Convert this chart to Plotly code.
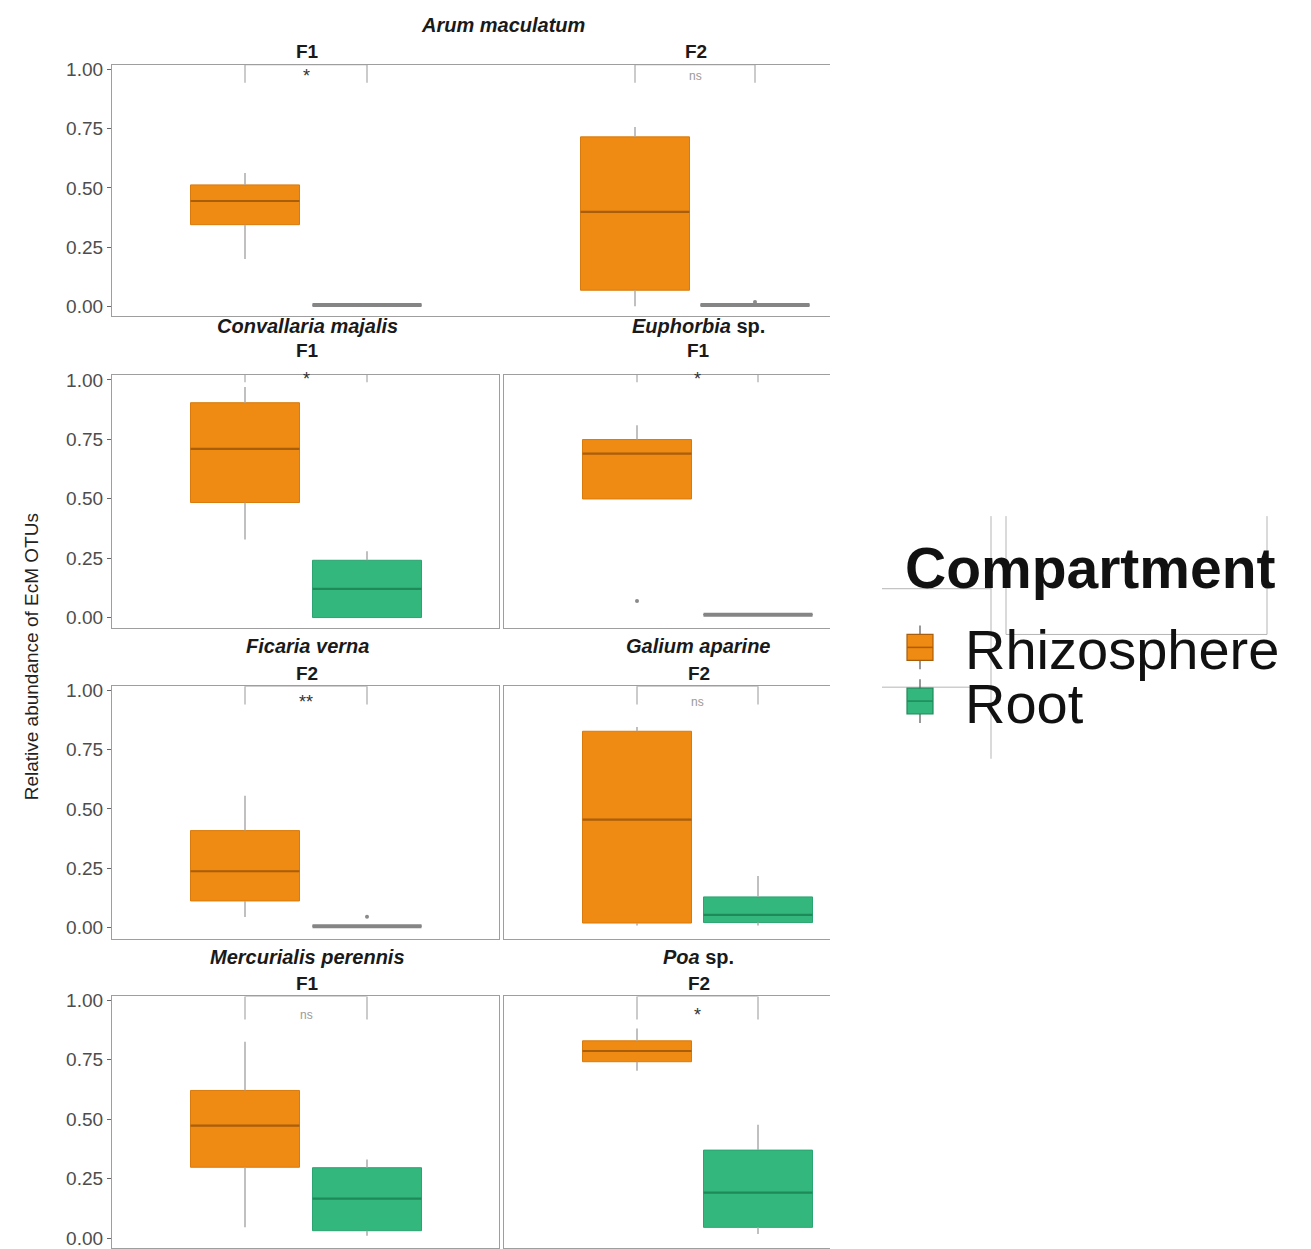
import plotly.graph_objects as go

# ---------------- data ----------------
species = ["Arum maculatum", "Arum maculatum", "Convallaria majalis", "Euphorbia sp.",
           "Ficaria verna", "Galium aparine", "Mercurialis perennis", "Poa sp."]
site = ["F1", "F2", "F1", "F1", "F2", "F2", "F1", "F2"]
signif = ["*", "ns", "*", "*", "**", "ns", "ns", "*"]
compartments = ["Rhizosphere", "Root"]

rhizo_low = [0.200, 0.000, 0.328, 0.499, 0.046, 0.010, 0.045, 0.704]
rhizo_q1 = [0.345, 0.068, 0.484, 0.499, 0.113, 0.020, 0.298, 0.742]
rhizo_med = [0.445, 0.399, 0.710, 0.690, 0.238, 0.455, 0.473, 0.787]
rhizo_q3 = [0.513, 0.716, 0.904, 0.749, 0.409, 0.827, 0.621, 0.830]
rhizo_high = [0.563, 0.758, 0.970, 0.809, 0.556, 0.845, 0.826, 0.882]
rhizo_out = [[], [], [], [0.070], [], [], [], []]

root_low = [0.005, 0.005, 0.000, 0.012, 0.007, 0.010, 0.010, 0.017]
root_q1 = [0.005, 0.005, 0.000, 0.012, 0.007, 0.022, 0.031, 0.045]
root_med = [0.005, 0.005, 0.121, 0.012, 0.007, 0.054, 0.166, 0.191]
root_q3 = [0.005, 0.005, 0.241, 0.012, 0.007, 0.130, 0.296, 0.370]
root_high = [0.005, 0.005, 0.279, 0.012, 0.007, 0.218, 0.331, 0.477]
root_out = [[], [0.018], [], [], [0.047], [], [], []]

y_tickvals = [0, 0.25, 0.5, 0.75, 1.0]
y_ticktext = ["0.00", "0.25", "0.50", "0.75", "1.00"]

# ---------------- style ----------------
W, H = 1311, 1249
FILL = {"Rhizosphere": "#EF8A12", "Root": "#34B77D"}
EDGE = {"Rhizosphere": "#D97B0C", "Root": "#2AA470"}
MED = {"Rhizosphere": "#A85E0A", "Root": "#1E8A5A"}
FLAT = "#858585"
WHISK = "#ABABAB"
BORDER = "#9E9E9E"
FONT = "Liberation Sans, Arial, Helvetica, sans-serif"

def px2x(p):
    return p / W

def py2y(p):
    return 1 - p / H

row_top = [59, 371, 684, 996]
row_bot = [312, 626, 938, 1249]
y1px = [64, 376, 688, 1000]
y0px = [302, 615, 927, 1239]

def panel_geom(i):
    r, c = divmod(i, 2)
    if r == 0:
        dom = (112, 501) if c == 0 else (501, 830)
        cats = (245, 367) if c == 0 else (635, 755)
    else:
        dom = (112, 499) if c == 0 else (504, 830)
        cats = (245, 367) if c == 0 else (637, 758)
    return r, c, dom, cats

bracket_top = [1.021, 1.070, 1.017, 1.017]
bracket_leg = [0.945, 0.99, 0.94, 0.92]
label_y = [0.975, 1.005, 0.950, 0.940]

fig = go.Figure()
layout = dict(
    width=W, height=H, margin=dict(l=0, r=0, t=0, b=0),
    paper_bgcolor="white", plot_bgcolor="white", showlegend=False,
    font=dict(family=FONT, color="#222"),
)
annotations = []
shapes = []

for i in range(8):
    r, c, dom, cats = panel_geom(i)
    unit_x = cats[1] - cats[0]
    xr = [(dom[0] - cats[0]) / unit_x, (dom[1] - cats[0]) / unit_x]
    unit_y = y0px[r] - y1px[r]
    yr = [(y0px[r] - row_bot[r]) / unit_y, (y0px[r] - row_top[r]) / unit_y]
    bw = 109 / unit_x
    xa = "x" if i == 0 else f"x{i+1}"
    ya = "y" if i == 0 else f"y{i+1}"
    xkey = "xaxis" if i == 0 else f"xaxis{i+1}"
    ykey = "yaxis" if i == 0 else f"yaxis{i+1}"

    layout[xkey] = dict(
        domain=[px2x(dom[0]), px2x(dom[1])], range=xr, anchor=ya,
        showticklabels=False, ticks="", showgrid=False, zeroline=False,
        showline=True, mirror=True, linecolor=BORDER, linewidth=1.3, fixedrange=True,
    )
    left_line = (c == 0) or (r > 0)
    right_line = (c == 0 and r > 0)
    layout[ykey] = dict(
        domain=[py2y(row_bot[r]), py2y(row_top[r])], range=yr, anchor=xa,
        tickvals=y_tickvals if c == 0 else [],
        ticktext=y_ticktext if c == 0 else [],
        showticklabels=(c == 0), ticks="outside" if c == 0 else "", ticklen=4,
        tickcolor="#666", tickfont=dict(size=19, color="#4D4D4D", family=FONT),
        showgrid=False, zeroline=False,
        showline=left_line, mirror=right_line, linecolor=BORDER, linewidth=1.3,
        fixedrange=True,
    )

    stats = {
        "Rhizosphere": (rhizo_low[i], rhizo_q1[i], rhizo_med[i], rhizo_q3[i], rhizo_high[i], rhizo_out[i]),
        "Root": (root_low[i], root_q1[i], root_med[i], root_q3[i], root_high[i], root_out[i]),
    }
    for k, comp in enumerate(compartments):
        lo, q1, md, q3, hi, outs = stats[comp]
        flat = (q3 - q1) < 1e-9
        if hi > q3:
            fig.add_trace(go.Scatter(x=[k, k], y=[q3, hi], mode="lines", xaxis=xa, yaxis=ya,
                                     line=dict(color=WHISK, width=1.5), hoverinfo="skip"))
        if lo < q1:
            fig.add_trace(go.Scatter(x=[k, k], y=[lo, q1], mode="lines", xaxis=xa, yaxis=ya,
                                     line=dict(color=WHISK, width=1.5), hoverinfo="skip"))
        fig.add_trace(go.Box(
            x=[k], q1=[q1], median=[md], q3=[q3], lowerfence=[q1], upperfence=[q3],
            width=bw, whiskerwidth=0, boxpoints=False, name=comp,
            fillcolor=FILL[comp], line=dict(color=FLAT if flat else EDGE[comp], width=1),
            xaxis=xa, yaxis=ya, hoverinfo="skip",
        ))
        fig.add_trace(go.Scatter(
            x=[k - bw / 2, k + bw / 2], y=[md, md], mode="lines", xaxis=xa, yaxis=ya,
            line=dict(color=FLAT if flat else MED[comp], width=4 if flat else 2.2),
            hoverinfo="skip",
        ))
        if outs:
            fig.add_trace(go.Scatter(
                x=[k] * len(outs), y=outs, mode="markers", xaxis=xa, yaxis=ya,
                marker=dict(color="#8A8A8A", size=4), hoverinfo="skip",
            ))

    fig.add_trace(go.Scatter(
        x=[0, 0, 1, 1], y=[bracket_leg[r], bracket_top[r], bracket_top[r], bracket_leg[r]],
        mode="lines", xaxis=xa, yaxis=ya, cliponaxis=False,
        line=dict(color="#A8A8A8", width=1.2), hoverinfo="skip",
    ))
    lab = signif[i]
    annotations.append(dict(
        x=0.5, y=label_y[r], xref=xa, yref=ya, text=lab, showarrow=False,
        font=dict(size=18 if lab != "ns" else 12, color="#333" if lab != "ns" else "#9A9A9A", family=FONT),
        xanchor="center", yanchor="middle",
    ))

strip_species_y = [19, 322, 644, 956]
strip_site_y = [46, 346, 671, 983]

def fmt_species(name):
    if name.endswith(" sp."):
        return f"<b><i>{name[:-4]}</i> sp.</b>"
    return f"<b><i>{name}</i></b>"

for i in range(8):
    r, c, dom, cats = panel_geom(i)
    cx = (cats[0] + cats[1]) / 2 + 1
    if r > 0 or c == 0:
        sx = 503 if r == 0 else cx
        annotations.append(dict(x=px2x(sx), y=py2y(strip_species_y[r]), xref="paper", yref="paper",
                                text=fmt_species(species[i]), showarrow=False,
                                font=dict(size=20, color="#1a1a1a", family=FONT),
                                xanchor="center", yanchor="middle"))
    annotations.append(dict(x=px2x(cx), y=py2y(strip_site_y[r]), xref="paper", yref="paper",
                            text=f"<b>{site[i]}</b>", showarrow=False,
                            font=dict(size=19, color="#1a1a1a", family=FONT),
                            xanchor="center", yanchor="middle"))

annotations.append(dict(x=px2x(31), y=py2y(655), xref="paper", yref="paper",
                        text="Relative abundance of EcM OTUs", textangle=-90, showarrow=False,
                        font=dict(size=19, color="#222", family=FONT),
                        xanchor="center", yanchor="middle"))

# legend (manual)
annotations.append(dict(x=px2x(903), y=py2y(565), xref="paper", yref="paper",
                        text="<b>Compartment</b>", showarrow=False,
                        font=dict(size=57, color="#111", family=FONT),
                        xanchor="left", yanchor="middle"))
leg_y = [645, 699]
for comp, ly in zip(compartments, leg_y):
    annotations.append(dict(x=px2x(963), y=py2y(ly + 2), xref="paper", yref="paper",
                            text=comp, showarrow=False,
                            font=dict(size=56, color="#111", family=FONT),
                            xanchor="left", yanchor="middle"))
    shapes.append(dict(type="line", xref="paper", yref="paper",
                       x0=px2x(920), x1=px2x(920), y0=py2y(ly - 22), y1=py2y(ly + 22),
                       line=dict(color="#555", width=1.2)))
    shapes.append(dict(type="rect", xref="paper", yref="paper",
                       x0=px2x(907), x1=px2x(933), y0=py2y(ly - 13), y1=py2y(ly + 13),
                       fillcolor=FILL[comp], line=dict(color=MED[comp], width=1.2)))
    shapes.append(dict(type="line", xref="paper", yref="paper",
                       x0=px2x(907), x1=px2x(933), y0=py2y(ly), y1=py2y(ly),
                       line=dict(color=MED[comp], width=1.5)))

ART = "#B5B5B5"
for (x0, y0, x1, y1) in [(991, 513, 991, 757), (1006, 513, 1006, 632), (1267, 513, 1267, 632),
                         (882, 586, 991, 586), (1006, 632, 1267, 632), (882, 685, 991, 685)]:
    shapes.append(dict(type="line", xref="paper", yref="paper", layer="below",
                       x0=px2x(x0), x1=px2x(x1), y0=py2y(y0), y1=py2y(y1),
                       line=dict(color=ART, width=1)))

layout["annotations"] = annotations
layout["shapes"] = shapes
fig.update_layout(**layout)

fig.write_html(
    "out.html",
    config={"displayModeBar": False},
    post_script="document.body.style.margin='0';document.body.style.overflow='hidden';",
)
